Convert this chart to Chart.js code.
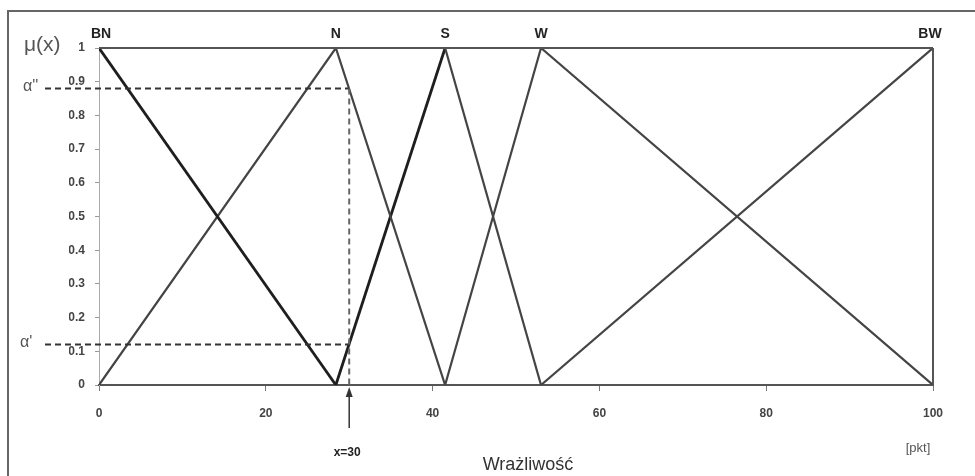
<!DOCTYPE html>
<html>
<head>
<meta charset="utf-8">
<script src="https://cdn.jsdelivr.net/npm/chart.js@4"></script>
<style>
    html, body { margin: 0; padding: 0; background: #fff; }
    #wrap { width: 975px; height: 476px; position: relative; }
</style>
</head>
<body>
<div id="wrap"><canvas id="grafico" width="975" height="476"></canvas></div>
<script>
// zbiory rozmyte
const nazwyZbiorow = ["BN", "N", "S", "W", "BW"];
const szczytyX = [0, 28.4, 41.5, 53, 100];

const bnX = [0, 28.4];
const bnY = [1, 0];
const nX = [0, 28.4, 41.5];
const nY = [0, 1, 0];
const sX = [28.4, 41.5, 53];
const sY = [0, 1, 0];
const wX = [41.5, 53, 100];
const wY = [0, 1, 0];
const bwX = [53, 100];
const bwY = [0, 1];

const xTicks = [0, 20, 40, 60, 80, 100];
const yTicks = [0, 0.1, 0.2, 0.3, 0.4, 0.5, 0.6, 0.7, 0.8, 0.9, 1];

const wartoscX = 30;
const alfaDolna = 0.12;
const alfaGorna = 0.88;

function punkty(xs, ys) {
    return xs.map((x, i) => ({ x: x, y: ys[i] }));
}

function linia(ctx, x1, y1, x2, y2) {
    ctx.beginPath();
    ctx.moveTo(x1, y1);
    ctx.lineTo(x2, y2);
    ctx.stroke();
}

const opisy = {
    id: "opisy",
    afterDatasetsDraw(chart) {
        const ctx = chart.ctx;
        const xs = chart.scales.x;
        const ys = chart.scales.y;
        const area = chart.chartArea;
        ctx.save();

        // ramka zewnetrzna
        ctx.strokeStyle = "#666";
        ctx.lineWidth = 2;
        ctx.strokeRect(8, 11, 1000, 500);

        // gorna i prawa krawedz wykresu
        ctx.strokeStyle = "#555";
        ctx.lineWidth = 2;
        linia(ctx, area.left, area.top, area.right, area.top);
        linia(ctx, area.right, area.top, area.right, area.bottom);

        // linie przerywane alfa
        const px = xs.getPixelForValue(wartoscX);
        ctx.strokeStyle = "#333";
        ctx.setLineDash([6, 4]);
        linia(ctx, 45, ys.getPixelForValue(alfaGorna), px, ys.getPixelForValue(alfaGorna));
        linia(ctx, 45, ys.getPixelForValue(alfaDolna), px, ys.getPixelForValue(alfaDolna));
        ctx.strokeStyle = "#666";
        linia(ctx, px, ys.getPixelForValue(alfaGorna), px, ys.getPixelForValue(0));
        ctx.setLineDash([]);

        // strzalka x=30
        const y0 = ys.getPixelForValue(0);
        ctx.strokeStyle = "#333";
        ctx.fillStyle = "#333";
        ctx.lineWidth = 1.5;
        linia(ctx, px, y0 + 43, px, y0 + 6);
        ctx.beginPath();
        ctx.moveTo(px, y0 + 2);
        ctx.lineTo(px - 3.5, y0 + 12);
        ctx.lineTo(px + 3.5, y0 + 12);
        ctx.closePath();
        ctx.fill();

        ctx.textAlign = "center";
        ctx.textBaseline = "middle";
        ctx.fillStyle = "#222";
        ctx.font = "bold 12px 'Liberation Sans'";
        ctx.fillText("x=" + wartoscX, px - 2, y0 + 68);

        // nazwy zbiorow
        ctx.font = "bold 14px 'Liberation Sans'";
        nazwyZbiorow.forEach((n, i) => {
            let x = xs.getPixelForValue(szczytyX[i]);
            if (i === 0) x += 2;
            if (i === nazwyZbiorow.length - 1) x -= 3;
            ctx.fillText(n, x, area.top - 14);
        });

        // opisy osi
        ctx.fillStyle = "#555";
        ctx.textAlign = "left";
        ctx.font = "21px 'Liberation Sans'";
        ctx.fillText("\u03bc(x)", 24, area.top - 3);
        ctx.font = "16px 'Liberation Sans'";
        ctx.fillText("\u03b1''", 23, ys.getPixelForValue(alfaGorna) - 2);
        ctx.fillText("\u03b1'", 20, ys.getPixelForValue(alfaDolna) - 2);

        ctx.textAlign = "center";
        ctx.fillStyle = "#333";
        ctx.font = "18px 'Liberation Sans'";
        ctx.fillText("Wra\u017cliwo\u015b\u0107", 528, y0 + 80);
        ctx.fillStyle = "#555";
        ctx.font = "13px 'Liberation Sans'";
        ctx.fillText("[pkt]", 918, y0 + 63);

        ctx.restore();
    }
};

const ciemna = "#1e1e1e";
const szara = "#444";

new Chart(document.getElementById("grafico"), {
    type: "scatter",
    data: {
        datasets: [
            { label: "BN", data: punkty(bnX, bnY), borderColor: ciemna, borderWidth: 2.8 },
            { label: "N", data: punkty(nX, nY), borderColor: szara, borderWidth: 2.2 },
            {
                label: "S",
                data: punkty(sX, sY),
                borderColor: szara,
                borderWidth: 2.2,
                segment: {
                    borderColor: c => c.p0DataIndex === 0 ? ciemna : szara,
                    borderWidth: c => c.p0DataIndex === 0 ? 2.8 : 2.2
                }
            },
            { label: "W", data: punkty(wX, wY), borderColor: szara, borderWidth: 2.2 },
            { label: "BW", data: punkty(bwX, bwY), borderColor: szara, borderWidth: 2.2 }
        ].map(d => Object.assign(d, { showLine: true, pointRadius: 0, tension: 0 }))
    },
    options: {
        responsive: false,
        animation: false,
        layout: {
            padding: { left: 69, right: 42, top: 48, bottom: 51 }
        },
        plugins: {
            legend: { display: false },
            tooltip: { enabled: false }
        },
        scales: {
            x: {
                type: "linear",
                min: 0,
                max: 100,
                afterBuildTicks: s => { s.ticks = xTicks.map(v => ({ value: v })); },
                afterFit: s => { s.height = 40; },
                grid: { drawOnChartArea: false, drawTicks: true, tickLength: 6, color: "#777" },
                border: { color: "#555", width: 2 },
                ticks: {
                    padding: 15,
                    color: "#444",
                    font: { family: "'Liberation Sans'", size: 12, weight: "bold" }
                }
            },
            y: {
                type: "linear",
                min: 0,
                max: 1,
                afterBuildTicks: s => { s.ticks = yTicks.map(v => ({ value: v })); },
                afterFit: s => { s.width = 30; },
                grid: { drawOnChartArea: false, drawTicks: true, tickLength: 4, color: "#999" },
                border: { color: "#aaa", width: 1 },
                ticks: {
                    padding: 10,
                    color: "#444",
                    font: { family: "'Liberation Sans'", size: 12, weight: "bold" },
                    callback: v => v === 0 || v === 1 ? String(v) : v.toFixed(1)
                }
            }
        }
    },
    plugins: [opisy]
});
</script>
</body>
</html>
